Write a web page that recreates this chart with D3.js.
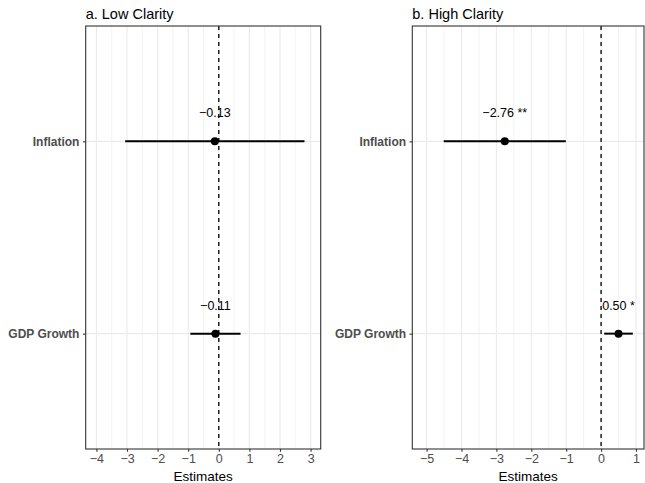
<!DOCTYPE html>
<html>
<head>
<meta charset="utf-8">
<script src="https://cdn.jsdelivr.net/npm/d3@7"></script>
<style>
  html, body { margin: 0; padding: 0; background: #fff; }
  svg { display: block; font-family: "Liberation Sans", Arial, Helvetica, sans-serif; }
</style>
</head>
<body>
<svg id="chart" width="645" height="483"></svg>
<script>
// ---- Data ----
const categories = ["Inflation", "GDP Growth"];
const panelTitles = ["a. Low Clarity", "b. High Clarity"];

const lowEstimate = [-0.13, -0.11];
const lowLower    = [-3.06, -0.93];
const lowUpper    = [2.80, 0.71];
const lowStars    = ["", ""];

const highEstimate = [-2.76, 0.50];
const highLower    = [-4.51, 0.09];
const highUpper    = [-1.01, 0.91];
const highStars    = ["**", "*"];

const lowTicks  = [-4, -3, -2, -1, 0, 1, 2, 3];
const highTicks = [-5, -4, -3, -2, -1, 0, 1];

const xAxisTitle = "Estimates";

// ---- Layout ----
const svg = d3.select("#chart");
const panelTop = 26, panelBottom = 449;
const fmt = d3.format(".2f");

const panels = [
  { title: panelTitles[0], est: lowEstimate, lo: lowLower, hi: lowUpper, stars: lowStars,
    ticks: lowTicks, domain: [-4.35, 3.33], range: [85.7, 320.7] },
  { title: panelTitles[1], est: highEstimate, lo: highLower, hi: highUpper, stars: highStars,
    ticks: highTicks, domain: [-5.41, 1.23], range: [412.3, 644.0] }
];

const y = d3.scalePoint().domain(categories).range([panelTop, panelBottom]).padding(0.6);

panels.forEach(p => {
  const x = d3.scaleLinear().domain(p.domain).range(p.range);
  const g = svg.append("g");
  const left = p.range[0], right = p.range[1];

  // minor gridlines
  const minor = d3.range(Math.ceil(p.domain[0] * 2) / 2, p.domain[1], 0.5).filter(v => !Number.isInteger(v));
  g.selectAll(".minor").data(minor).enter().append("line")
    .attr("x1", d => x(d)).attr("x2", d => x(d))
    .attr("y1", panelTop).attr("y2", panelBottom)
    .attr("stroke", "#ebebeb").attr("stroke-width", 0.6);
  // major gridlines
  g.selectAll(".major").data(p.ticks).enter().append("line")
    .attr("x1", d => x(d)).attr("x2", d => x(d))
    .attr("y1", panelTop).attr("y2", panelBottom)
    .attr("stroke", "#ebebeb").attr("stroke-width", 1.1);
  g.selectAll(".hgrid").data(categories).enter().append("line")
    .attr("x1", left).attr("x2", right)
    .attr("y1", d => y(d)).attr("y2", d => y(d))
    .attr("stroke", "#ebebeb").attr("stroke-width", 1.1);

  // zero reference line
  g.append("line")
    .attr("x1", x(0)).attr("x2", x(0)).attr("y1", panelTop).attr("y2", panelBottom)
    .attr("stroke", "#000").attr("stroke-width", 1.3).attr("stroke-dasharray", "4,4");

  // CI lines, points and labels
  categories.forEach((c, i) => {
    g.append("line")
      .attr("x1", x(p.lo[i])).attr("x2", x(p.hi[i]))
      .attr("y1", y(c)).attr("y2", y(c))
      .attr("stroke", "#000").attr("stroke-width", 2);
    g.append("circle")
      .attr("cx", x(p.est[i])).attr("cy", y(c)).attr("r", 4)
      .attr("fill", "#000");
    const lbl = fmt(p.est[i]) + (p.stars[i] ? " " + p.stars[i] : "");
    g.append("text")
      .attr("x", x(p.est[i])).attr("y", y(c) - 24)
      .attr("text-anchor", "middle")
      .attr("font-size", 12.5).attr("fill", "#000")
      .text(lbl);
  });

  // panel border
  g.append("rect")
    .attr("x", left).attr("y", panelTop)
    .attr("width", right - left).attr("height", panelBottom - panelTop)
    .attr("fill", "none").attr("stroke", "#333").attr("stroke-width", 1.1);

  // x axis
  const xAxis = d3.axisBottom(x).tickValues(p.ticks).tickSize(2.75).tickPadding(2.5)
    .tickFormat(d3.format("d"));
  const ax = g.append("g").attr("transform", `translate(0,${panelBottom})`).call(xAxis);
  ax.select(".domain").remove();
  ax.selectAll(".tick line").attr("stroke", "#333").attr("stroke-width", 1.1);
  ax.selectAll(".tick text").attr("fill", "#4d4d4d").attr("font-size", 12.5)
    .attr("font-family", "Liberation Sans, Arial, sans-serif");

  // y axis
  const yAxis = d3.axisLeft(y).tickSize(2.75).tickPadding(3.5);
  const ay = g.append("g").attr("transform", `translate(${left},0)`).call(yAxis);
  ay.select(".domain").remove();
  ay.selectAll(".tick line").attr("stroke", "#333").attr("stroke-width", 1.1);
  ay.selectAll(".tick text").attr("fill", "#4d4d4d").attr("font-size", 12)
    .attr("font-weight", "bold")
    .attr("font-family", "Liberation Sans, Arial, sans-serif");

  // axis title
  g.append("text")
    .attr("x", (left + right) / 2).attr("y", 481)
    .attr("text-anchor", "middle").attr("font-size", 13.5).attr("fill", "#000")
    .text(xAxisTitle);

  // panel title
  g.append("text")
    .attr("x", left).attr("y", 18.5)
    .attr("font-size", 14.5).attr("fill", "#000")
    .text(p.title);
});
</script>
</body>
</html>
